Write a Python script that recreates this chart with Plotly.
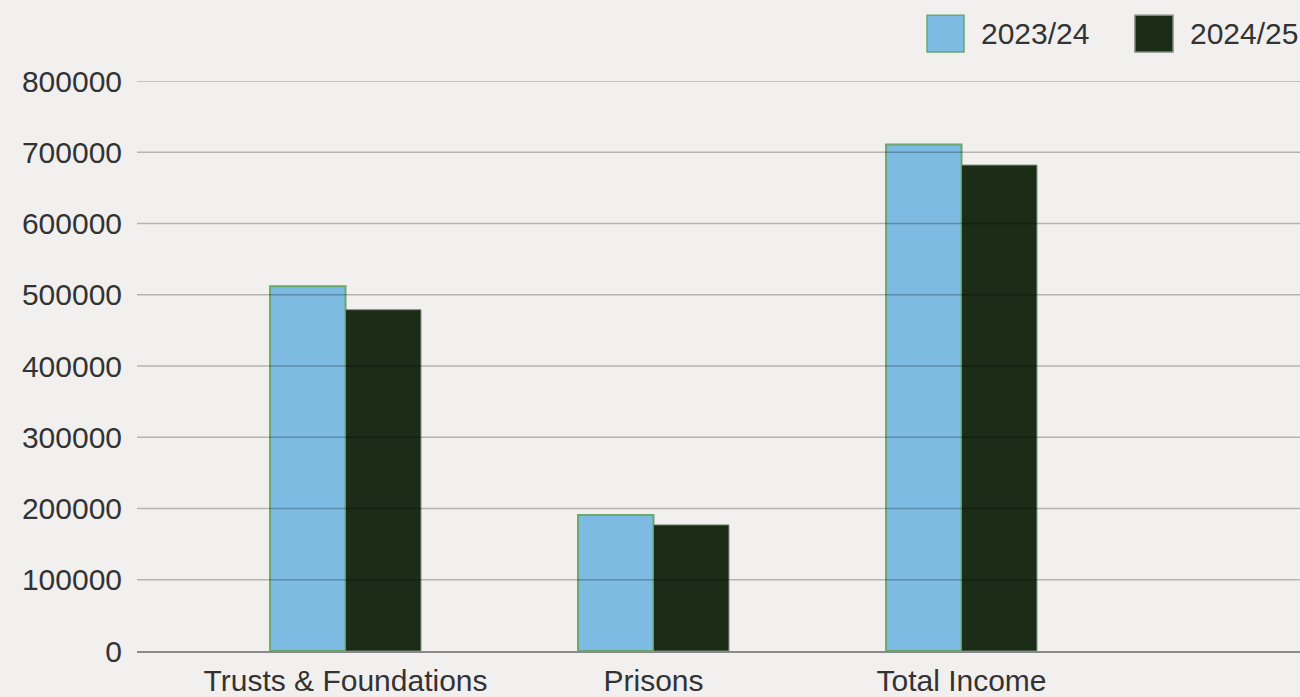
import plotly.graph_objects as go

# Income by source, two financial years
categories = ["Trusts & Foundations", "Prisons", "Total Income"]
income_2023_24 = [512000, 191000, 711000]
income_2024_25 = [479000, 177000, 682000]
y_ticks = [0, 100000, 200000, 300000, 400000, 500000, 600000, 700000, 800000]
series_names = ["2023/24", "2024/25"]

BG = "#f1f0ee"
BLUE = "#7dbbe3"
DARK = "#1b2c17"
TEXT = "#333333"
FONT = "Liberation Sans"

fig = go.Figure()
fig.add_trace(go.Bar(
    x=categories, y=income_2023_24, name=series_names[0],
    marker=dict(color=BLUE, line=dict(color="#6aa86c", width=2)),
    showlegend=False,
))
fig.add_trace(go.Bar(
    x=categories, y=income_2024_25, name=series_names[1],
    marker=dict(color=DARK, line=dict(color="#7e8a7b", width=1)),
    showlegend=False,
))

# Horizontal rules drawn over the bars
for v in y_ticks[1:]:
    fig.add_shape(type="line", xref="paper", yref="y", x0=0, x1=1, y0=v, y1=v,
                  line=dict(color="rgba(0,0,0,0.25)", width=1.5), layer="above")

# Legend swatches and labels
swatches = [
    (0.6793, 0.7111, BLUE, "#6aa86c", 0.7240, series_names[0]),
    (0.8581, 0.8908, DARK, "#7e8a7b", 0.9037, series_names[1]),
]
for x0, x1, fill, edge, tx, label in swatches:
    fig.add_shape(type="rect", xref="paper", yref="paper", x0=x0, x1=x1,
                  y0=1.0507, y1=1.1154, fillcolor=fill, line=dict(color=edge, width=1.5))
    fig.add_annotation(xref="paper", yref="paper", x=tx, y=1.083, text=label,
                       showarrow=False, xanchor="left", yanchor="middle",
                       font=dict(family=FONT, size=30, color=TEXT))

fig.update_layout(
    width=1300, height=697,
    margin=dict(l=137, r=0, t=81, b=44),
    paper_bgcolor=BG, plot_bgcolor=BG,
    barmode="group", bargap=0.51, bargroupgap=0,
    font=dict(family=FONT, size=30, color=TEXT),
    xaxis=dict(
        range=[-0.677, 3.099], showgrid=False, zeroline=False,
        showline=True, linecolor="#8a8a8a", linewidth=2,
        ticks="", tickfont=dict(size=30, color=TEXT), ticklabelstandoff=2,
    ),
    yaxis=dict(
        range=[0, 800000], tickvals=y_ticks, ticktext=[str(v) for v in y_ticks],
        showgrid=False, zeroline=False, showline=False, ticks="",
        tickfont=dict(size=30, color=TEXT), ticklabelstandoff=14,
    ),
)

fig.write_html("out.html")
